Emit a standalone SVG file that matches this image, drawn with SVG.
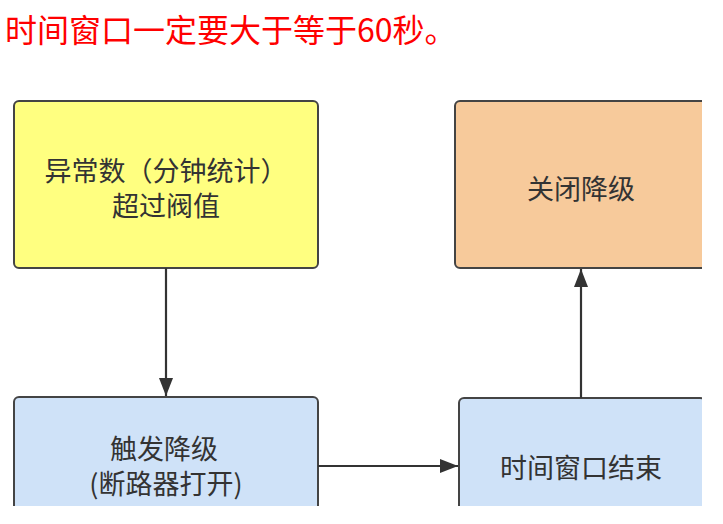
<svg xmlns="http://www.w3.org/2000/svg" width="723" height="524" viewBox="0 0 723 524">
  <style>
    .box { stroke: #444444; stroke-width: 2; }
    .lbl { font-family: "Noto Sans CJK SC", "Noto Sans", sans-serif; font-size: 27px; fill: #333333; text-anchor: middle; }
    .title { font-family: "Noto Sans CJK SC", "Noto Sans", sans-serif; font-size: 32px; fill: #ff0000; }
    .conn { stroke: #333333; stroke-width: 2.2; fill: none; }
  </style>
  <defs>
    <clipPath id="crop"><rect x="0" y="0" width="702" height="506"/></clipPath>
    <marker id="arr" markerUnits="userSpaceOnUse" markerWidth="20" markerHeight="14" refX="18" refY="7" orient="auto">
      <path d="M0,0 L18,7 L0,14 Z" fill="#333333"/>
    </marker>
  </defs>
  <rect width="723" height="524" fill="#ffffff"/>
  <text class="title" x="5" y="42">时间窗口一定要大于等于60秒。</text>
  <g clip-path="url(#crop)">
    <g id="node-threshold">
      <rect class="box" x="14" y="101" width="304" height="167" rx="5" fill="#ffff80"/>
      <text class="lbl" x="166" y="181">异常数（分钟统计）</text>
      <text class="lbl" x="166" y="216">超过阀值</text>
    </g>
    <g id="node-close">
      <rect class="box" x="455" y="101" width="252" height="167" rx="5" fill="#f7ca9b"/>
      <text class="lbl" x="581" y="199">关闭降级</text>
    </g>
    <g id="node-trigger">
      <rect class="box" x="14" y="397" width="304" height="167" rx="5" fill="#cfe2f8"/>
      <text class="lbl" x="164" y="459">触发降级</text>
      <text class="lbl" x="166" y="494">(断路器打开)</text>
    </g>
    <g id="node-window-end">
      <rect class="box" x="459" y="398" width="246" height="167" rx="5" fill="#cfe2f8"/>
      <text class="lbl" x="581" y="478">时间窗口结束</text>
    </g>
  </g>
  <g id="connectors">
    <line class="conn" x1="166" y1="268" x2="166" y2="396" marker-end="url(#arr)"/>
    <line class="conn" x1="318" y1="466" x2="458" y2="466" marker-end="url(#arr)"/>
    <line class="conn" x1="581" y1="398" x2="581" y2="269" marker-end="url(#arr)"/>
  </g>
</svg>
